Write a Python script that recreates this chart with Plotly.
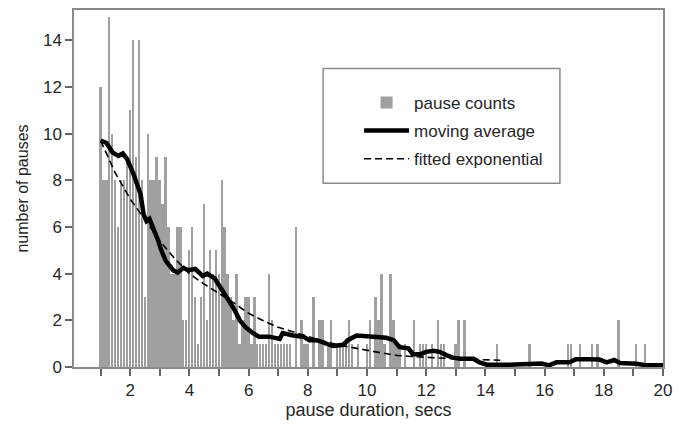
import plotly.graph_objs as go

# pause counts per 0.1 s bin, starting at 1.0 s (one row per second)
pause_counts = [
    12, 8, 8, 15, 10, 8, 6, 8, 8, 9,
    11, 14, 9, 14, 8, 3, 10, 8, 8, 9,
    8, 7, 9, 6, 4, 4, 6, 6, 2, 2,
    5, 6, 3, 1, 3, 7, 2, 5, 4, 5,
    4, 8, 6, 4, 3, 2, 4, 1, 2, 3,
    3, 1, 3, 1, 1, 1, 1, 4, 2, 1,
    1, 1, 1, 1, 1, 0, 6, 0, 2, 1,
    1, 0, 3, 0, 2, 2, 0, 1, 2, 0,
    1, 1, 1, 1, 2, 1, 0, 1, 0, 0,
    1, 2, 0, 3, 2, 4, 1, 0, 4, 2,
    1, 1, 0, 1, 0, 0, 2, 0, 1, 1,
    1, 0, 1, 0, 2, 1, 1, 0, 0, 0,
    1, 2, 0, 2, 0, 0, 0, 0, 0, 0,
    0, 0, 0, 0, 1, 0, 0, 0, 0, 0,
    0, 0, 0, 0, 0, 1, 0, 0, 0, 0,
    0, 0, 0, 0, 0, 0, 0, 0, 1, 1,
    0, 0, 1, 0, 0, 0, 1, 0, 1, 0,
    0, 0, 0, 0, 0, 2, 0, 0, 0, 0,
    0, 1, 0, 0, 1, 0, 0, 0, 0, 0,
]
bin_start = 1.0
bin_step = 0.1

# moving average
ma_x = [1.0, 1.2, 1.4, 1.6, 1.75, 1.9, 2.1, 2.2, 2.35, 2.45, 2.55, 2.65, 2.85, 2.95, 3.05,
        3.2, 3.45, 3.6, 3.8, 3.95, 4.2, 4.45, 4.6, 4.85, 5.0, 5.25, 5.5, 5.7, 5.9, 6.15,
        6.35, 6.7, 7.05, 7.15, 7.5, 7.85, 8.05, 8.3, 8.5, 8.85, 9.2, 9.35, 9.65, 10.0,
        10.3, 10.65, 10.9, 11.1, 11.4, 11.55, 11.8, 12.0, 12.25, 12.45, 12.7, 12.9, 13.15,
        13.6, 13.8, 14.05, 14.8, 15.9, 16.15, 16.4, 16.85, 17.05, 17.5, 17.85, 18.1,
        18.35, 18.55, 19.1, 19.45, 20.0]
ma_y = [9.7, 9.6, 9.2, 9.05, 9.15, 8.9, 8.3, 7.95, 7.4, 6.55, 6.25, 6.35, 5.75, 5.4, 5.0,
        4.55, 4.15, 4.05, 4.25, 4.15, 4.2, 3.9, 4.0, 3.8, 3.5, 3.0, 2.5, 2.0, 1.7, 1.45,
        1.3, 1.3, 1.2, 1.45, 1.35, 1.3, 1.15, 1.15, 1.05, 0.9, 0.95, 1.15, 1.35, 1.3,
        1.3, 1.25, 1.15, 0.85, 0.8, 0.55, 0.55, 0.65, 0.7, 0.65, 0.5, 0.4, 0.35,
        0.35, 0.2, 0.1, 0.1, 0.15, 0.07, 0.2, 0.2, 0.33, 0.33, 0.32, 0.2,
        0.3, 0.17, 0.14, 0.07, 0.07]

# fitted exponential
fit_x = [1.0, 1.5, 2.0, 2.5, 3.0, 3.5, 4.0, 4.5, 5.0, 5.5, 6.0, 6.5, 7.0, 7.5,
         8.0, 8.5, 9.0, 9.5, 10.0, 10.5, 11.0, 11.5, 12.0, 12.5, 13.0, 13.5, 14.0, 14.5]
fit_y = [9.7, 8.3, 7.2, 6.3, 5.4, 4.65, 4.0, 3.55, 3.15, 2.75, 2.3, 1.98, 1.7, 1.5,
         1.32, 1.12, 0.95, 0.82, 0.72, 0.6, 0.5, 0.45, 0.41, 0.38, 0.35, 0.33, 0.31, 0.29]

x_tickvals = [1, 2, 3, 4, 5, 6, 7, 8, 9, 10, 11, 12, 13, 14, 15, 16, 17, 18, 19, 20]
x_ticktext = ["", "2", "", "4", "", "6", "", "8", "", "10", "", "12", "", "14", "", "16", "", "18", "", "20"]

fig = go.Figure()

fig.add_trace(go.Bar(
    x0=bin_start, dx=bin_step, y=pause_counts, width=0.065,
    marker=dict(color="#a0a0a0", line=dict(width=0)),
    name="pause counts", legendgroup="a"))

fig.add_trace(go.Scatter(
    x=ma_x, y=ma_y, mode="lines", name="moving average", legendgroup="b",
    line=dict(color="black", width=4.5)))

fig.add_trace(go.Scatter(
    x=fit_x, y=fit_y, mode="lines", name="fitted exponential", legendgroup="c",
    line=dict(color="black", width=1.6, dash="7px,4px")))

# legend frame (the legend itself has no border so the box can be sized like the original)
fig.add_shape(type="rect", xref="paper", yref="paper",
              x0=0.423, x1=0.825, y0=0.515, y1=0.836,
              line=dict(color="#8a8a8a", width=1.5), fillcolor="rgba(0,0,0,0)")

fig.update_layout(
    width=692, height=429,
    # page body adds 8px, so the plot area lands at 74..663 / 8..367
    margin=dict(l=66, r=37, t=0, b=70),
    plot_bgcolor="white", paper_bgcolor="white",
    font=dict(family="Liberation Sans, Arial, sans-serif", size=17, color="#262626"),
    bargap=0,
    legend=dict(x=0.484, y=0.79, xanchor="left", yanchor="top",
                borderwidth=0, bgcolor="rgba(0,0,0,0)",
                tracegroupgap=3, itemwidth=45, font=dict(size=17)),
    xaxis=dict(
        range=[0.1, 20], tickvals=x_tickvals, ticktext=x_ticktext,
        ticks="outside", ticklen=7, tickcolor="#666", tickwidth=1.5,
        tickfont=dict(size=17),
        showline=True, linecolor="#8a8a8a", linewidth=1.5, mirror=True,
        showgrid=False, zeroline=False,
        title=dict(text="pause duration, secs", standoff=4, font=dict(size=18))),
    yaxis=dict(
        range=[0, 15.3], dtick=2, tick0=0,
        ticks="outside", ticklen=7, tickcolor="#666", tickwidth=1.5,
        tickfont=dict(size=17),
        showline=True, linecolor="#8a8a8a", linewidth=1.5, mirror=True,
        showgrid=False, zeroline=False,
        title=dict(text="number of pauses", standoff=10, font=dict(size=16))),
)

fig.write_html("out.html")
